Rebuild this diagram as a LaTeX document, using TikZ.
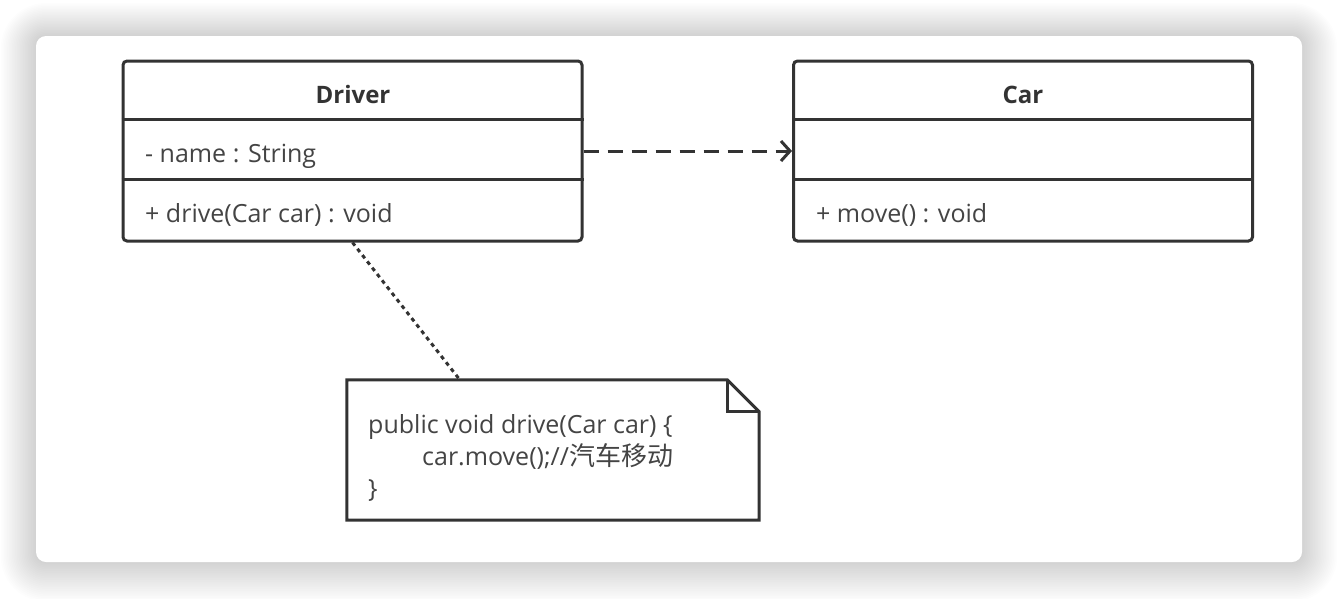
\documentclass[tikz,border=0pt]{standalone}
\usepackage{fontspec}
\setmainfont{Open Sans}
\newfontfamily\cjk{Noto Sans CJK SC}
\usetikzlibrary{calc,arrows.meta}
\definecolor{ink}{HTML}{333333}
\definecolor{txt}{HTML}{444444}
\tikzset{
  classbox/.style={draw=ink, line width=3pt, rounded corners=4pt, minimum width=459pt, minimum height=180pt, inner sep=0pt},
  member/.style={anchor=base west, text=txt, font=\fontsize{25}{30}\selectfont, inner sep=0pt},
  title/.style={anchor=base, text=ink, font=\fontsize{24}{30}\selectfont\bfseries, inner sep=0pt},
  divider/.style={draw=ink, line width=3pt},
  depend/.style={draw=ink, line width=3pt, dash pattern=on 15pt off 9pt, -{Straight Barb[length=9pt,width=20pt,line width=3pt]}},
  notelink/.style={draw=ink, line width=3pt, dash pattern=on 4pt off 4pt},
  notebox/.style={draw=none, minimum width=412pt, minimum height=140pt, inner sep=0pt},
  noteline/.style={anchor=base west, text=txt, font=\fontsize{25}{30}\selectfont, inner sep=0pt},
}
\begin{document}
\begin{tikzpicture}[x=1pt,y=-1pt]
\useasboundingbox (0,0) rectangle (1338,598);
\fill[white] (0,0) rectangle (1338,598);
% soft shadow around the card
\foreach \i in {1,...,22}{
  \fill[black, opacity=0.008, rounded corners={10pt+\i*1.6pt}] ($(36,36)+(-\i*1.6,-\i*1.5)$) rectangle ($(1302,562)+(\i*1.6,\i*1.8)$);
}
\fill[white, rounded corners=10pt] (36,36) rectangle (1302,562);

% Driver class
\node[classbox] (driver) at (352.5,151) {};
\node[title] (driverName) at (353,103) {Driver};
\node[member] (driverAttr) at (145,162) {- name : String};
\node[member] (driverOp) at (145,222) {+ drive(Car car) : void};
\draw[divider] ($(driver.north west)+(0,60)$) -- ($(driver.north east)+(0,60)$);
\draw[divider] ($(driver.north west)+(0,120)$) -- ($(driver.north east)+(0,120)$);

% Car class
\node[classbox] (car) at (1023,151) {};
\node[title] (carName) at (1023,103) {Car};
\node[member] (carOp) at (816,222) {+ move() : void};
\draw[divider] ($(car.north west)+(0,60)$) -- ($(car.north east)+(0,60)$);
\draw[divider] ($(car.north west)+(0,120)$) -- ($(car.north east)+(0,120)$);

% dependency
\draw[depend] (driver.east) -- (car.west);

% note
\node[notebox] (note) at (553,450) {};
\draw[ink, line width=3pt, line join=miter]
  (note.north west) -- ($(note.north east)+(-32,0)$) -- ($(note.north east)+(0,32)$) -- (note.south east) -- (note.south west) -- cycle;
\draw[ink, line width=3pt, line join=miter]
  ($(note.north east)+(-32,0)$) -- ($(note.north east)+(-32,32)$) -- ($(note.north east)+(0,32)$);
\node[noteline] (noteL1) at (368,433) {public void drive(Car car) \{};
\node[noteline] (noteL2) at (422,465) {car.move();//{\cjk\fontsize{26}{30}\selectfont 汽车移动}};
\node[noteline] (noteL3) at (368,497) {\}};
\coordinate (noteAnchor) at ($(note.north west)+(113,0)$);
\draw[notelink] (driver.south) -- (noteAnchor);
\end{tikzpicture}
\end{document}
